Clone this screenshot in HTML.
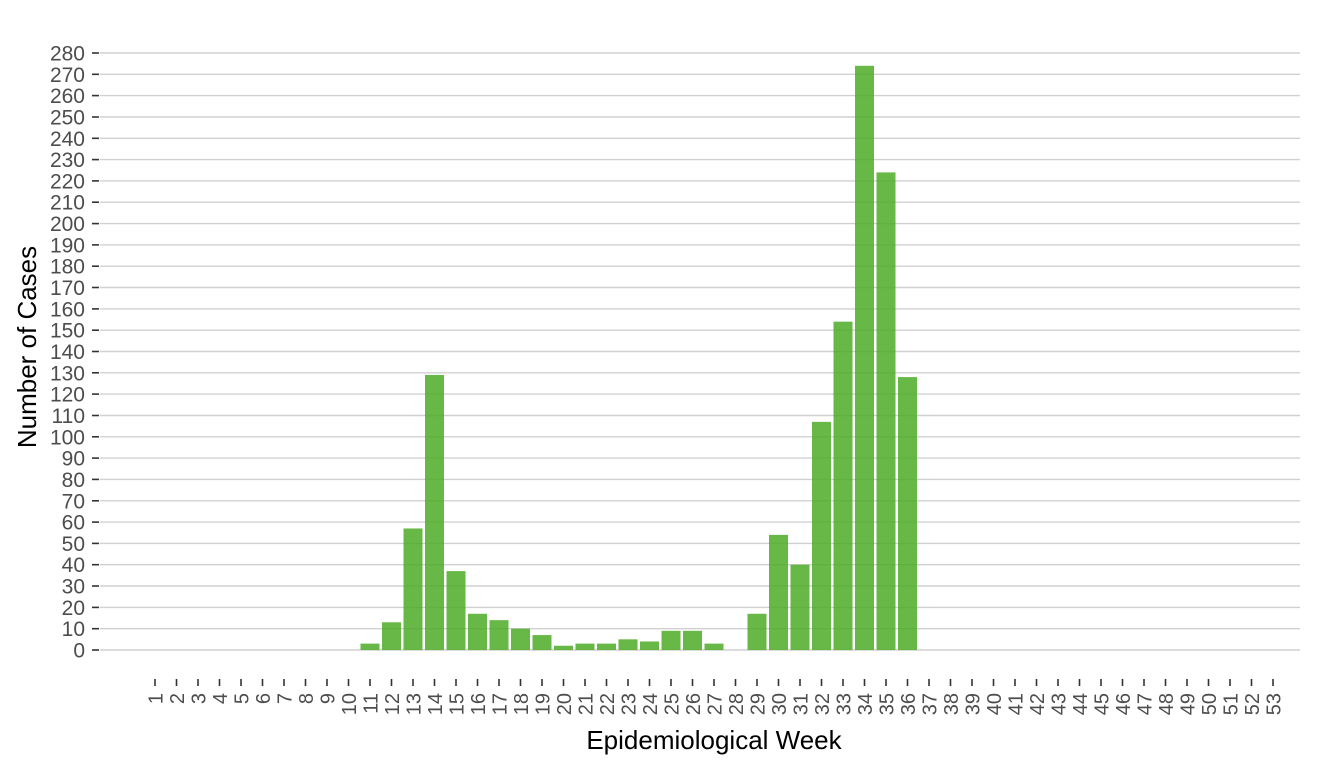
<!DOCTYPE html>
<html><head><meta charset="utf-8"><style>
body{margin:0;background:#fff}
svg{display:block;font-family:"Liberation Sans",Arial,sans-serif}
.yl{font-size:21px;fill:#4d4d4d;text-anchor:end}
.xl{font-size:20px;fill:#4d4d4d;text-anchor:end}
</style></head><body>
<svg width="1344" height="768" viewBox="0 0 1344 768">
<g stroke="#d0d0d0" stroke-width="1.4">
<line x1="100" x2="1300" y1="650" y2="650"/><line x1="100" x2="1300" y1="628.7" y2="628.7"/><line x1="100" x2="1300" y1="607.4" y2="607.4"/><line x1="100" x2="1300" y1="586" y2="586"/><line x1="100" x2="1300" y1="564.7" y2="564.7"/><line x1="100" x2="1300" y1="543.4" y2="543.4"/><line x1="100" x2="1300" y1="522.1" y2="522.1"/><line x1="100" x2="1300" y1="500.8" y2="500.8"/><line x1="100" x2="1300" y1="479.4" y2="479.4"/><line x1="100" x2="1300" y1="458.1" y2="458.1"/><line x1="100" x2="1300" y1="436.8" y2="436.8"/><line x1="100" x2="1300" y1="415.5" y2="415.5"/><line x1="100" x2="1300" y1="394.1" y2="394.1"/><line x1="100" x2="1300" y1="372.8" y2="372.8"/><line x1="100" x2="1300" y1="351.5" y2="351.5"/><line x1="100" x2="1300" y1="330.2" y2="330.2"/><line x1="100" x2="1300" y1="308.9" y2="308.9"/><line x1="100" x2="1300" y1="287.5" y2="287.5"/><line x1="100" x2="1300" y1="266.2" y2="266.2"/><line x1="100" x2="1300" y1="244.9" y2="244.9"/><line x1="100" x2="1300" y1="223.6" y2="223.6"/><line x1="100" x2="1300" y1="202.2" y2="202.2"/><line x1="100" x2="1300" y1="180.9" y2="180.9"/><line x1="100" x2="1300" y1="159.6" y2="159.6"/><line x1="100" x2="1300" y1="138.3" y2="138.3"/><line x1="100" x2="1300" y1="117" y2="117"/><line x1="100" x2="1300" y1="95.6" y2="95.6"/><line x1="100" x2="1300" y1="74.3" y2="74.3"/><line x1="100" x2="1300" y1="53" y2="53"/>
</g>
<g stroke="#333" stroke-width="1.6">
<line x1="92" x2="99" y1="650" y2="650"/><line x1="92" x2="99" y1="628.7" y2="628.7"/><line x1="92" x2="99" y1="607.4" y2="607.4"/><line x1="92" x2="99" y1="586" y2="586"/><line x1="92" x2="99" y1="564.7" y2="564.7"/><line x1="92" x2="99" y1="543.4" y2="543.4"/><line x1="92" x2="99" y1="522.1" y2="522.1"/><line x1="92" x2="99" y1="500.8" y2="500.8"/><line x1="92" x2="99" y1="479.4" y2="479.4"/><line x1="92" x2="99" y1="458.1" y2="458.1"/><line x1="92" x2="99" y1="436.8" y2="436.8"/><line x1="92" x2="99" y1="415.5" y2="415.5"/><line x1="92" x2="99" y1="394.1" y2="394.1"/><line x1="92" x2="99" y1="372.8" y2="372.8"/><line x1="92" x2="99" y1="351.5" y2="351.5"/><line x1="92" x2="99" y1="330.2" y2="330.2"/><line x1="92" x2="99" y1="308.9" y2="308.9"/><line x1="92" x2="99" y1="287.5" y2="287.5"/><line x1="92" x2="99" y1="266.2" y2="266.2"/><line x1="92" x2="99" y1="244.9" y2="244.9"/><line x1="92" x2="99" y1="223.6" y2="223.6"/><line x1="92" x2="99" y1="202.2" y2="202.2"/><line x1="92" x2="99" y1="180.9" y2="180.9"/><line x1="92" x2="99" y1="159.6" y2="159.6"/><line x1="92" x2="99" y1="138.3" y2="138.3"/><line x1="92" x2="99" y1="117" y2="117"/><line x1="92" x2="99" y1="95.6" y2="95.6"/><line x1="92" x2="99" y1="74.3" y2="74.3"/><line x1="92" x2="99" y1="53" y2="53"/>
</g>
<g class="yl">
<text x="85" y="657.5">0</text><text x="85" y="636.2">10</text><text x="85" y="614.9">20</text><text x="85" y="593.5">30</text><text x="85" y="572.2">40</text><text x="85" y="550.9">50</text><text x="85" y="529.6">60</text><text x="85" y="508.3">70</text><text x="85" y="486.9">80</text><text x="85" y="465.6">90</text><text x="85" y="444.3">100</text><text x="85" y="423">110</text><text x="85" y="401.6">120</text><text x="85" y="380.3">130</text><text x="85" y="359">140</text><text x="85" y="337.7">150</text><text x="85" y="316.4">160</text><text x="85" y="295">170</text><text x="85" y="273.7">180</text><text x="85" y="252.4">190</text><text x="85" y="231.1">200</text><text x="85" y="209.7">210</text><text x="85" y="188.4">220</text><text x="85" y="167.1">230</text><text x="85" y="145.8">240</text><text x="85" y="124.5">250</text><text x="85" y="103.1">260</text><text x="85" y="81.8">270</text><text x="85" y="60.5">280</text>
</g>
<g transform="translate(0,650) scale(1,-2.13214)" fill="#4cab26" fill-opacity="0.85">
<rect x="360.5" y="0" width="19" height="3"/><rect x="382" y="0" width="19" height="13"/><rect x="403.5" y="0" width="19" height="57"/><rect x="425" y="0" width="19" height="129"/><rect x="446.5" y="0" width="19" height="37"/><rect x="468" y="0" width="19" height="17"/><rect x="489.5" y="0" width="19" height="14"/><rect x="511" y="0" width="19" height="10"/><rect x="532.5" y="0" width="19" height="7"/><rect x="554" y="0" width="19" height="2"/><rect x="575.5" y="0" width="19" height="3"/><rect x="597" y="0" width="19" height="3"/><rect x="618.5" y="0" width="19" height="5"/><rect x="640" y="0" width="19" height="4"/><rect x="661.5" y="0" width="19" height="9"/><rect x="683" y="0" width="19" height="9"/><rect x="704.5" y="0" width="19" height="3"/><rect x="747.5" y="0" width="19" height="17"/><rect x="769" y="0" width="19" height="54"/><rect x="790.5" y="0" width="19" height="40"/><rect x="812" y="0" width="19" height="107"/><rect x="833.5" y="0" width="19" height="154"/><rect x="855" y="0" width="19" height="274"/><rect x="876.5" y="0" width="19" height="224"/><rect x="898" y="0" width="19" height="128"/>
</g>
<g stroke="#333" stroke-width="1.6">
<line x1="155" x2="155" y1="679" y2="686"/><line x1="176.5" x2="176.5" y1="679" y2="686"/><line x1="198" x2="198" y1="679" y2="686"/><line x1="219.5" x2="219.5" y1="679" y2="686"/><line x1="241" x2="241" y1="679" y2="686"/><line x1="262.5" x2="262.5" y1="679" y2="686"/><line x1="284" x2="284" y1="679" y2="686"/><line x1="305.5" x2="305.5" y1="679" y2="686"/><line x1="327" x2="327" y1="679" y2="686"/><line x1="348.5" x2="348.5" y1="679" y2="686"/><line x1="370" x2="370" y1="679" y2="686"/><line x1="391.5" x2="391.5" y1="679" y2="686"/><line x1="413" x2="413" y1="679" y2="686"/><line x1="434.5" x2="434.5" y1="679" y2="686"/><line x1="456" x2="456" y1="679" y2="686"/><line x1="477.5" x2="477.5" y1="679" y2="686"/><line x1="499" x2="499" y1="679" y2="686"/><line x1="520.5" x2="520.5" y1="679" y2="686"/><line x1="542" x2="542" y1="679" y2="686"/><line x1="563.5" x2="563.5" y1="679" y2="686"/><line x1="585" x2="585" y1="679" y2="686"/><line x1="606.5" x2="606.5" y1="679" y2="686"/><line x1="628" x2="628" y1="679" y2="686"/><line x1="649.5" x2="649.5" y1="679" y2="686"/><line x1="671" x2="671" y1="679" y2="686"/><line x1="692.5" x2="692.5" y1="679" y2="686"/><line x1="714" x2="714" y1="679" y2="686"/><line x1="735.5" x2="735.5" y1="679" y2="686"/><line x1="757" x2="757" y1="679" y2="686"/><line x1="778.5" x2="778.5" y1="679" y2="686"/><line x1="800" x2="800" y1="679" y2="686"/><line x1="821.5" x2="821.5" y1="679" y2="686"/><line x1="843" x2="843" y1="679" y2="686"/><line x1="864.5" x2="864.5" y1="679" y2="686"/><line x1="886" x2="886" y1="679" y2="686"/><line x1="907.5" x2="907.5" y1="679" y2="686"/><line x1="929" x2="929" y1="679" y2="686"/><line x1="950.5" x2="950.5" y1="679" y2="686"/><line x1="972" x2="972" y1="679" y2="686"/><line x1="993.5" x2="993.5" y1="679" y2="686"/><line x1="1015" x2="1015" y1="679" y2="686"/><line x1="1036.5" x2="1036.5" y1="679" y2="686"/><line x1="1058" x2="1058" y1="679" y2="686"/><line x1="1079.5" x2="1079.5" y1="679" y2="686"/><line x1="1101" x2="1101" y1="679" y2="686"/><line x1="1122.5" x2="1122.5" y1="679" y2="686"/><line x1="1144" x2="1144" y1="679" y2="686"/><line x1="1165.5" x2="1165.5" y1="679" y2="686"/><line x1="1187" x2="1187" y1="679" y2="686"/><line x1="1208.5" x2="1208.5" y1="679" y2="686"/><line x1="1230" x2="1230" y1="679" y2="686"/><line x1="1251.5" x2="1251.5" y1="679" y2="686"/><line x1="1273" x2="1273" y1="679" y2="686"/>
</g>
<g class="xl">
<text transform="translate(162.5,693) rotate(-90)">1</text><text transform="translate(184,693) rotate(-90)">2</text><text transform="translate(205.5,693) rotate(-90)">3</text><text transform="translate(227,693) rotate(-90)">4</text><text transform="translate(248.5,693) rotate(-90)">5</text><text transform="translate(270,693) rotate(-90)">6</text><text transform="translate(291.5,693) rotate(-90)">7</text><text transform="translate(313,693) rotate(-90)">8</text><text transform="translate(334.5,693) rotate(-90)">9</text><text transform="translate(356,693) rotate(-90)">10</text><text transform="translate(377.5,693) rotate(-90)">11</text><text transform="translate(399,693) rotate(-90)">12</text><text transform="translate(420.5,693) rotate(-90)">13</text><text transform="translate(442,693) rotate(-90)">14</text><text transform="translate(463.5,693) rotate(-90)">15</text><text transform="translate(485,693) rotate(-90)">16</text><text transform="translate(506.5,693) rotate(-90)">17</text><text transform="translate(528,693) rotate(-90)">18</text><text transform="translate(549.5,693) rotate(-90)">19</text><text transform="translate(571,693) rotate(-90)">20</text><text transform="translate(592.5,693) rotate(-90)">21</text><text transform="translate(614,693) rotate(-90)">22</text><text transform="translate(635.5,693) rotate(-90)">23</text><text transform="translate(657,693) rotate(-90)">24</text><text transform="translate(678.5,693) rotate(-90)">25</text><text transform="translate(700,693) rotate(-90)">26</text><text transform="translate(721.5,693) rotate(-90)">27</text><text transform="translate(743,693) rotate(-90)">28</text><text transform="translate(764.5,693) rotate(-90)">29</text><text transform="translate(786,693) rotate(-90)">30</text><text transform="translate(807.5,693) rotate(-90)">31</text><text transform="translate(829,693) rotate(-90)">32</text><text transform="translate(850.5,693) rotate(-90)">33</text><text transform="translate(872,693) rotate(-90)">34</text><text transform="translate(893.5,693) rotate(-90)">35</text><text transform="translate(915,693) rotate(-90)">36</text><text transform="translate(936.5,693) rotate(-90)">37</text><text transform="translate(958,693) rotate(-90)">38</text><text transform="translate(979.5,693) rotate(-90)">39</text><text transform="translate(1001,693) rotate(-90)">40</text><text transform="translate(1022.5,693) rotate(-90)">41</text><text transform="translate(1044,693) rotate(-90)">42</text><text transform="translate(1065.5,693) rotate(-90)">43</text><text transform="translate(1087,693) rotate(-90)">44</text><text transform="translate(1108.5,693) rotate(-90)">45</text><text transform="translate(1130,693) rotate(-90)">46</text><text transform="translate(1151.5,693) rotate(-90)">47</text><text transform="translate(1173,693) rotate(-90)">48</text><text transform="translate(1194.5,693) rotate(-90)">49</text><text transform="translate(1216,693) rotate(-90)">50</text><text transform="translate(1237.5,693) rotate(-90)">51</text><text transform="translate(1259,693) rotate(-90)">52</text><text transform="translate(1280.5,693) rotate(-90)">53</text>
</g>
<text x="714" y="749" font-size="26" fill="#000" text-anchor="middle">Epidemiological Week</text>
<text transform="translate(36,347) rotate(-90)" font-size="26" fill="#000" text-anchor="middle">Number of Cases</text>
</svg>
</body></html>
